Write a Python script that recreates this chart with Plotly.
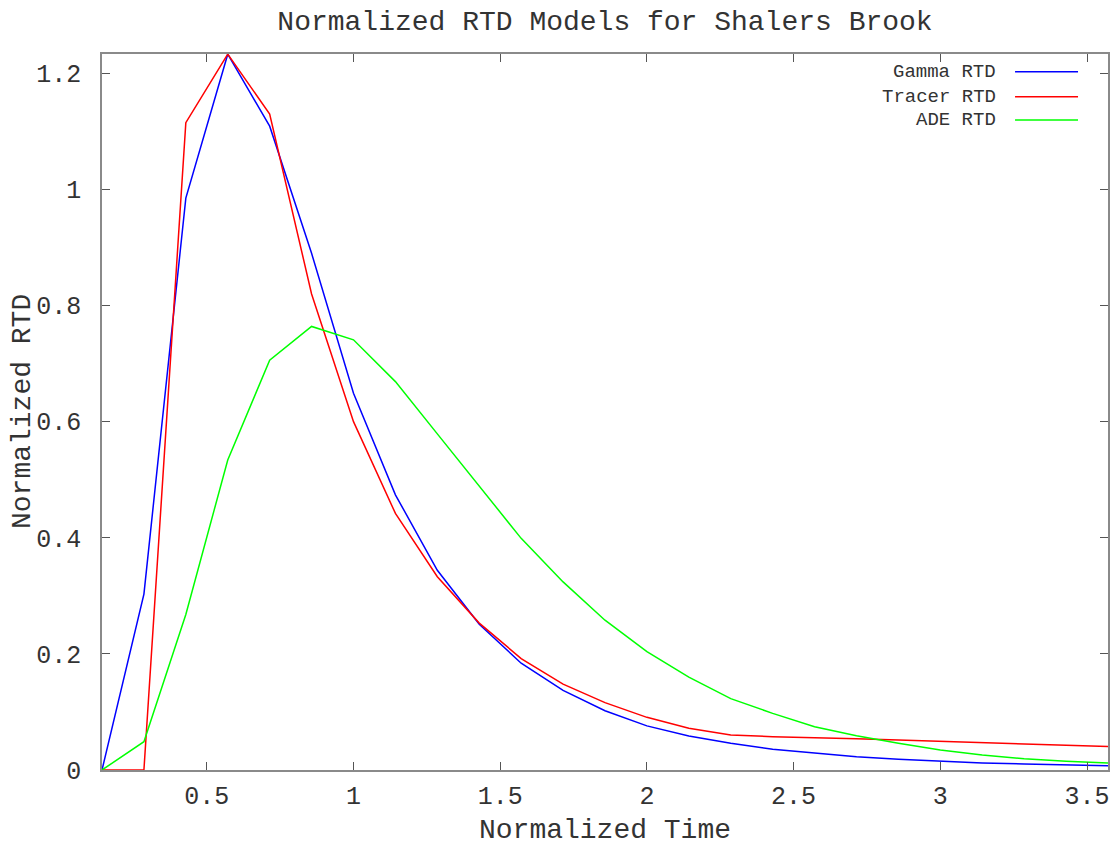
import plotly.graph_objects as go

# Data: normalized time at k/7, k = 1..25
time_k = list(range(1, 26))
time = [k / 7 for k in time_k]

gamma_rtd = [0.0, 0.303, 0.985, 1.233, 1.109, 0.890, 0.649, 0.474, 0.344, 0.251,
             0.184, 0.137, 0.102, 0.076, 0.0586, 0.046, 0.0356, 0.0287, 0.023, 0.0184,
             0.015, 0.012, 0.0103, 0.0086, 0.0075]
tracer_rtd = [0.0, 0.0, 1.115, 1.233, 1.130, 0.820, 0.600, 0.442, 0.333, 0.253,
              0.192, 0.148, 0.116, 0.0907, 0.0718, 0.0603, 0.0574, 0.0562, 0.054, 0.0517,
              0.0494, 0.047, 0.045, 0.0428, 0.0405]
ade_rtd = [0.0, 0.0488, 0.268, 0.534, 0.706, 0.764, 0.741, 0.669, 0.579, 0.489,
           0.399, 0.324, 0.258, 0.204, 0.160, 0.123, 0.0976, 0.0746, 0.059, 0.046,
           0.0344, 0.0258, 0.0195, 0.015, 0.012]

series_names = ["Gamma RTD", "Tracer RTD", "ADE RTD"]
series_values = [gamma_rtd, tracer_rtd, ade_rtd]
series_colors = ["#0000ff", "#ff0000", "#00ff00"]

x_ticks = [0.5, 1, 1.5, 2, 2.5, 3, 3.5]
x_tick_labels = ["0.5", "1", "1.5", "2", "2.5", "3", "3.5"]
y_ticks = [0, 0.2, 0.4, 0.6, 0.8, 1.0, 1.2]
y_tick_labels = ["0", "0.2", "0.4", "0.6", "0.8", "1", "1.2"]

FONT = "Liberation Mono, Courier New, monospace"
TXT = "#333333"
AX = "#8a8a8a"

W, H = 1118, 846

fig = go.Figure()
for name, vals, col in zip(series_names, series_values, series_colors):
    fig.add_trace(go.Scatter(x=time, y=vals, mode="lines", name=name,
                             line=dict(color=col, width=1.5), showlegend=False))

# gnuplot-style key: right-aligned text with line sample to its right
key_y = [0.9753, 0.9404, 0.9078]
for name, col, ky in zip(series_names, series_colors, key_y):
    fig.add_annotation(xref="paper", yref="paper", x=0.8907, y=ky, text=name,
                       showarrow=False, xanchor="right", yanchor="middle",
                       font=dict(family=FONT, size=19, color=TXT))
    fig.add_shape(type="line", xref="paper", yref="paper",
                  x0=0.9076, x1=0.9702, y0=ky, y1=ky,
                  line=dict(color=col, width=1.5))

# y-axis title (placed as rotated text to match gnuplot's position)
fig.add_annotation(xref="paper", yref="paper", x=-0.0795, y=0.5, text="Normalized RTD",
                   textangle=-90, showarrow=False, xanchor="center", yanchor="middle",
                   font=dict(family=FONT, size=28, color=TXT))

fig.update_layout(
    width=W, height=H,
    paper_bgcolor="white", plot_bgcolor="white",
    margin=dict(l=102, r=10, t=54, b=76, autoexpand=False),
    title=dict(text="Normalized RTD Models for Shalers Brook", xref="paper", x=0.5,
               xanchor="center", y=1 - 20 / H, yanchor="middle",
               font=dict(family=FONT, size=28, color=TXT)),
    font=dict(family=FONT, color=TXT),
)
fig.update_xaxes(
    range=[1 / 7, 25 / 7], tickvals=x_ticks, ticktext=x_tick_labels,
    ticks="inside", ticklen=8, tickcolor="#555555", tickwidth=1,
    showline=True, linecolor=AX, linewidth=1.5, mirror="ticks",
    showgrid=False, zeroline=False, automargin=False,
    tickfont=dict(family=FONT, size=25, color=TXT),
    ticklabelstandoff=2,
    title=dict(text="Normalized Time", font=dict(family=FONT, size=28, color=TXT), standoff=18),
)
fig.update_yaxes(
    range=[0, 1.2333], tickvals=y_ticks, ticktext=y_tick_labels,
    ticks="inside", ticklen=8, tickcolor="#555555", tickwidth=1,
    showline=True, linecolor=AX, linewidth=1.5, mirror="ticks",
    showgrid=False, zeroline=False, automargin=False,
    tickfont=dict(family=FONT, size=25, color=TXT),
    ticklabelstandoff=14,
)

# remove the default 8px page margin so the figure fills the window exactly
fig.write_html("out.html",
               config={"displayModeBar": False},
               post_script="document.body.style.margin='0';document.body.style.overflow='hidden';")
